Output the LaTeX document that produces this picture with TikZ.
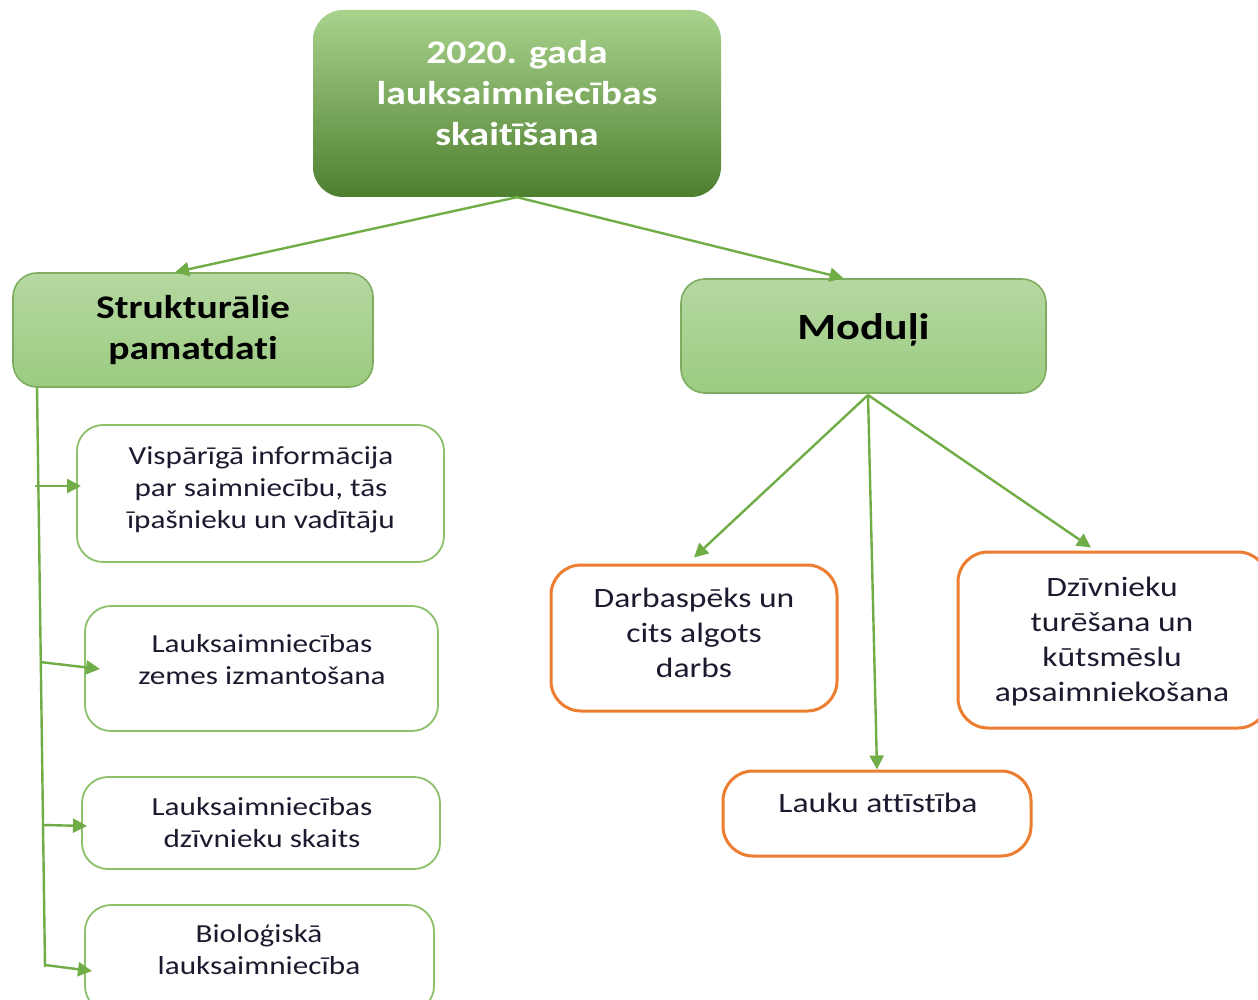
\documentclass[tikz,border=0pt]{standalone}
\usepackage{fontspec}
\setmainfont{Carlito}[FakeStretch=1.2, RawFeature={-liga;-clig;-calt}]
\usetikzlibrary{arrows.meta,calc}
\definecolor{conn}{HTML}{70AD47}
\definecolor{gborder}{HTML}{8CC06A}
\definecolor{oborder}{HTML}{ED7D31}
\definecolor{txt}{HTML}{1B1B2F}
\definecolor{gtop}{HTML}{A9D38D}
\definecolor{gmid}{HTML}{70AD47}
\definecolor{gbot}{HTML}{4E7F2F}
\definecolor{ltop}{HTML}{B5D8A2}
\definecolor{lbot}{HTML}{9CCB80}
\tikzset{
  headbox/.style={rounded corners=30pt, top color=gtop, middle color=gmid, bottom color=gbot, draw=none},
  catbox/.style={rounded corners=24pt, top color=ltop, bottom color=lbot, draw=gborder!90!black, line width=1.6pt},
  gbox/.style={rounded corners=26pt, draw=gborder, line width=1.8pt, fill=white},
  obox/.style={rounded corners=30pt, draw=oborder, line width=3pt, fill=white},
  ltxt/.style={align=center, text=txt, font=\fontsize{26}{32}\selectfont},
  rtxt/.style={align=center, text=txt, font=\fontsize{28}{35}\selectfont},
  btxt/.style={align=center, text=black, font=\bfseries\fontsize{33}{41}\selectfont},
  conline/.style={draw=conn, line width=2.4pt},
  con/.style={conline, -{Triangle[length=14pt,width=14pt]}},
}
\begin{document}
\begin{tikzpicture}[x=1pt,y=-1pt]
\clip (0,0) rectangle (1258,1000);
\fill[white] (0,0) rectangle (1258,1000);
% boxes
\node[headbox, minimum width=408pt, minimum height=187pt] (top) at (517,103.5) {};
\node[align=center, text=white, font=\bfseries\fontsize{33}{41}\selectfont] (toptxt) at (517,93) {2020. gada\\lauksaimniecības\\skaitīšana};
\node[catbox, minimum width=360pt, minimum height=114pt] (struk) at (193,330) {};
\node[btxt] (struktxt) at (193,330) {Strukturālie\\pamatdati};
\node[catbox, minimum width=365pt, minimum height=114pt] (mod) at (863.5,336) {};
\node[btxt, font=\bfseries\fontsize{37}{41}\selectfont] (modtxt) at (863.5,330) {Moduļi};
\node[gbox, minimum width=367pt, minimum height=137pt] (b1) at (260.5,493.5) {};
\node[ltxt] (b1txt) at (261,490) {Vispārīgā informācija\\par saimniecību, tās\\īpašnieku un vadītāju};
\node[gbox, minimum width=353pt, minimum height=125pt] (b2) at (261.5,668.5) {};
\node[ltxt] (b2txt) at (262,660) {Lauksaimniecības\\zemes izmantošana};
\node[gbox, minimum width=358pt, minimum height=92pt] (b3) at (261,823) {};
\node[ltxt] (b3txt) at (262,823) {Lauksaimniecības\\dzīvnieku skaits};
\node[gbox, minimum width=349pt, minimum height=107pt] (b4) at (259.5,958.5) {};
\node[ltxt] (b4txt) at (259,950) {Bioloģiskā\\lauksaimniecība};
\node[obox, minimum width=286pt, minimum height=146pt] (darb) at (694,638) {};
\node[rtxt] (darbtxt) at (694,633) {Darbaspēks un\\cits algots\\darbs};
\node[obox, minimum width=308pt, minimum height=85pt] (lauku) at (877,813.5) {};
\node[rtxt] (laukutxt) at (878,803) {Lauku attīstība};
\node[obox, minimum width=310pt, minimum height=176pt] (dziv) at (1113,640) {};
\node[rtxt] (dzivtxt) at (1112,642) {Dzīvnieku\\turēšana un\\kūtsmēslu\\apsaimniekošana};
% top connectors
\draw[con] (top.south) -- ($(struk.north)+(-18,0)$);
\draw[con] (top.south) -- ($(mod.north)+(-20,0)$);
% module connectors
\coordinate (mroot) at (868,395);
\draw[con] (mroot) -- ($(darb.north)+(0,-6)$);
\draw[con] (mroot) -- (lauku.north);
\draw[con] (mroot) -- ($(dziv.north)+(-22,-3)$);
% left trunk
\coordinate (tt) at (37,387);
\coordinate (tb) at (45,967);
\draw[conline] (tt) -- (tb);
\coordinate (s1) at (35,486);
\coordinate (e1) at (81,486);
\coordinate (s2) at (40,662);
\coordinate (e2) at (100,669);
\coordinate (s3) at (43,825);
\coordinate (e3) at (87,826);
\coordinate (s4) at (45,965);
\coordinate (e4) at (92,971);
\draw[con] (s1) -- (e1);
\draw[con] (s2) -- (e2);
\draw[con] (s3) -- (e3);
\draw[con] (s4) -- (e4);
\end{tikzpicture}
\end{document}
